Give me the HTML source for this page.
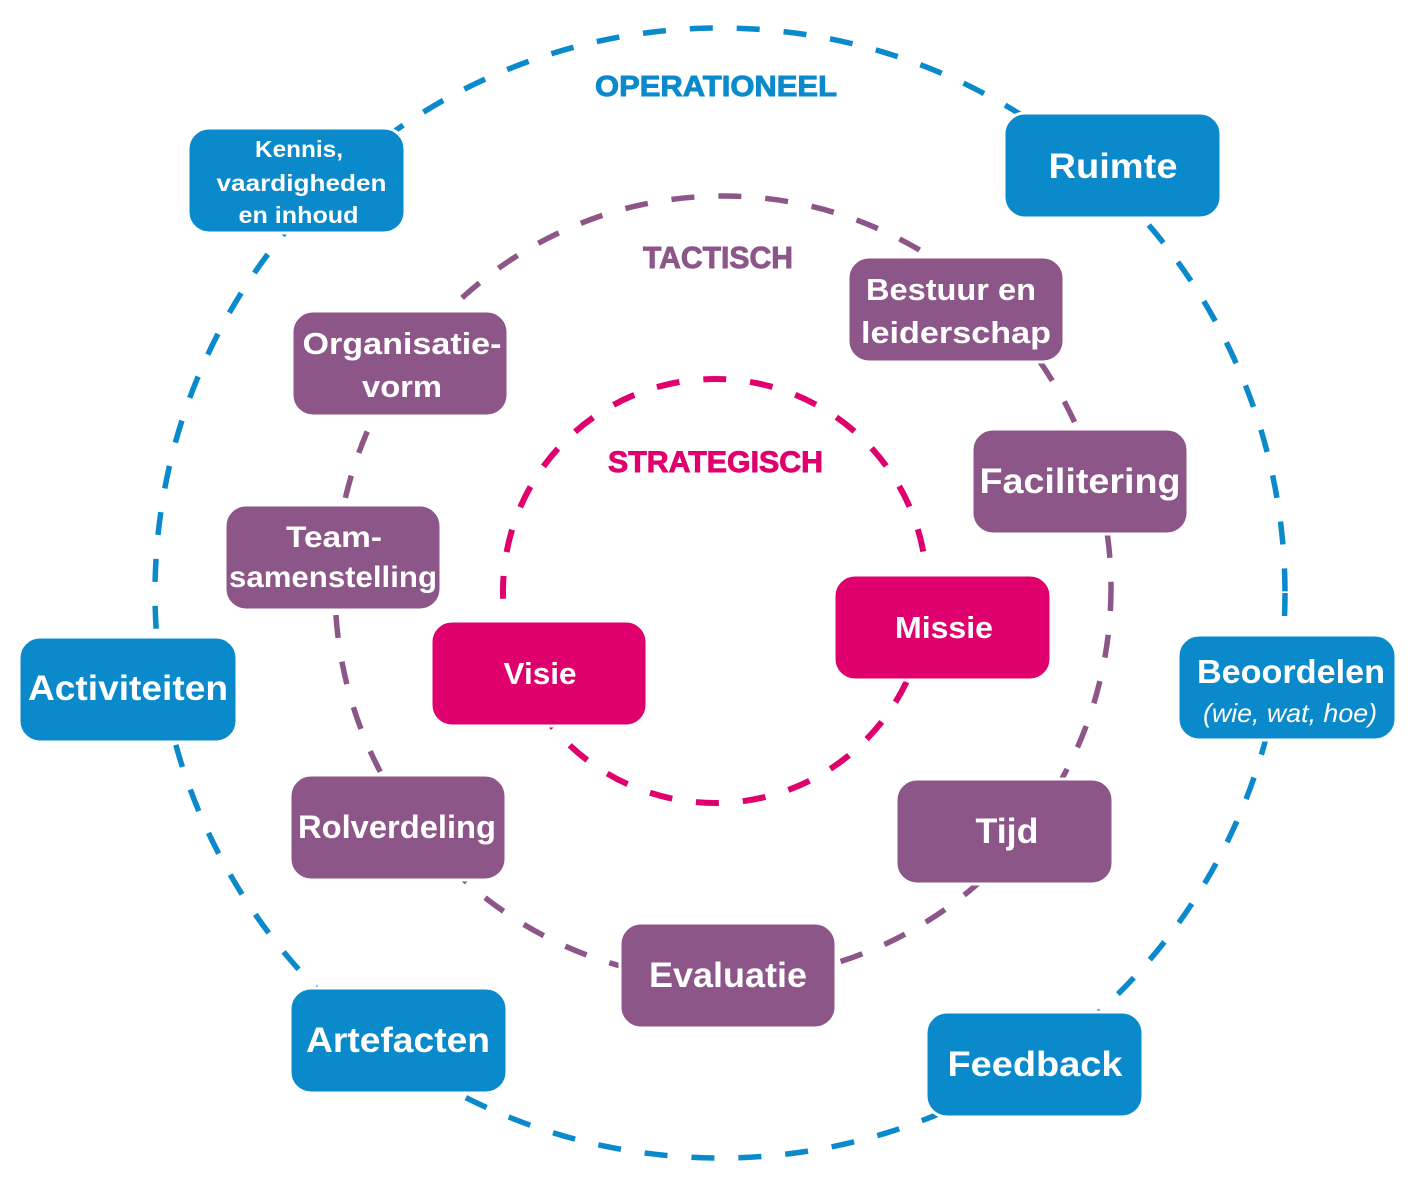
<!DOCTYPE html>
<html>
<head>
<meta charset="utf-8">
<style>
  html, body { margin: 0; padding: 0; background: #ffffff; }
  svg { display: block; }
  .lbl { font-family: "Liberation Sans", "DejaVu Sans", sans-serif; font-weight: bold; fill: #ffffff; text-anchor: middle; }
  .hd { font-family: "Liberation Sans", "DejaVu Sans", sans-serif; font-weight: bold; text-anchor: middle; stroke-width: 0.9; }
</style>
</head>
<body>
<svg width="1424" height="1180" viewBox="0 0 1424 1180" xmlns="http://www.w3.org/2000/svg">
  <rect x="0" y="0" width="1424" height="1180" fill="#ffffff"/>

  <!-- dashed rings -->
  <circle cx="720" cy="593" r="565" fill="none" stroke="#0a8acb" stroke-width="5.5" stroke-dasharray="23 24"/>
  <ellipse cx="723" cy="588" rx="388" ry="392" fill="none" stroke="#8c5689" stroke-width="5.5" stroke-dasharray="23 24"/>
  <circle cx="715" cy="591" r="212" fill="none" stroke="#df006d" stroke-width="6" stroke-dasharray="23 24"/>

  <!-- headings -->
  <text class="hd" x="716" y="96" font-size="29" fill="#0a8acb" stroke="#0a8acb" textLength="242" lengthAdjust="spacingAndGlyphs">OPERATIONEEL</text>
  <text class="hd" x="718" y="268" font-size="31" fill="#8c5689" stroke="#8c5689" textLength="150" lengthAdjust="spacingAndGlyphs">TACTISCH</text>
  <text class="hd" x="715.5" y="472" font-size="30" fill="#df006d" stroke="#df006d" textLength="215" lengthAdjust="spacingAndGlyphs">STRATEGISCH</text>

  <!-- blue boxes (operationeel) -->
  <g fill="#0a8acb" stroke="#ffffff" stroke-width="3">
    <rect x="188" y="128" width="217" height="105" rx="21"/>
    <rect x="1004" y="113" width="217" height="105" rx="21"/>
    <rect x="19" y="637" width="218" height="105" rx="21"/>
    <rect x="1178" y="635" width="218" height="105" rx="21"/>
    <rect x="290" y="988" width="217" height="105" rx="21"/>
    <rect x="926" y="1012" width="217" height="105" rx="21"/>
  </g>

  <!-- purple boxes (tactisch) -->
  <g fill="#8c5689" stroke="#ffffff" stroke-width="3">
    <rect x="848" y="257" width="216" height="105" rx="21"/>
    <rect x="292" y="311" width="216" height="105" rx="21"/>
    <rect x="972" y="429" width="216" height="105" rx="21"/>
    <rect x="225" y="505" width="216" height="105" rx="21"/>
    <rect x="290" y="775" width="216" height="105" rx="21"/>
    <rect x="896" y="779" width="217" height="105" rx="21"/>
    <rect x="620" y="923" width="216" height="105" rx="21"/>
  </g>

  <!-- pink boxes (strategisch) -->
  <g fill="#df006d" stroke="#ffffff" stroke-width="3">
    <rect x="834" y="575" width="217" height="105" rx="21"/>
    <rect x="431" y="621" width="216" height="105" rx="21"/>
  </g>

  <!-- labels: blue -->
  <text class="lbl" x="299" y="157" font-size="23" textLength="88" lengthAdjust="spacingAndGlyphs">Kennis,</text>
  <text class="lbl" x="301.5" y="191" font-size="23" textLength="170" lengthAdjust="spacingAndGlyphs">vaardigheden</text>
  <text class="lbl" x="298.5" y="223" font-size="23" textLength="120" lengthAdjust="spacingAndGlyphs">en inhoud</text>

  <text class="lbl" x="1113" y="178" font-size="35" textLength="129" lengthAdjust="spacingAndGlyphs">Ruimte</text>
  <text class="lbl" x="128" y="700" font-size="35" textLength="200" lengthAdjust="spacingAndGlyphs">Activiteiten</text>
  <text class="lbl" x="1291" y="683" font-size="33" textLength="188" lengthAdjust="spacingAndGlyphs">Beoordelen</text>
  <text x="1290" y="722" font-family="Liberation Sans, DejaVu Sans, sans-serif" font-style="italic" font-weight="normal" font-size="26" fill="#ffffff" text-anchor="middle" textLength="174" lengthAdjust="spacingAndGlyphs">(wie, wat, hoe)</text>
  <text class="lbl" x="398" y="1052" font-size="35" textLength="184" lengthAdjust="spacingAndGlyphs">Artefacten</text>
  <text class="lbl" x="1035" y="1076" font-size="35" textLength="175" lengthAdjust="spacingAndGlyphs">Feedback</text>

  <!-- labels: purple -->
  <text class="lbl" x="951" y="300" font-size="31" textLength="170" lengthAdjust="spacingAndGlyphs">Bestuur en</text>
  <text class="lbl" x="956" y="343" font-size="31" textLength="190" lengthAdjust="spacingAndGlyphs">leiderschap</text>
  <text class="lbl" x="402" y="354" font-size="31" textLength="199" lengthAdjust="spacingAndGlyphs">Organisatie-</text>
  <text class="lbl" x="402" y="397" font-size="31" textLength="80" lengthAdjust="spacingAndGlyphs">vorm</text>
  <text class="lbl" x="1080" y="493" font-size="35" textLength="201" lengthAdjust="spacingAndGlyphs">Facilitering</text>
  <text class="lbl" x="334" y="547" font-size="30" textLength="96" lengthAdjust="spacingAndGlyphs">Team-</text>
  <text class="lbl" x="333" y="587" font-size="30" textLength="208" lengthAdjust="spacingAndGlyphs">samenstelling</text>
  <text class="lbl" x="397" y="838" font-size="32" textLength="198" lengthAdjust="spacingAndGlyphs">Rolverdeling</text>
  <text class="lbl" x="1007" y="843" font-size="35" textLength="63" lengthAdjust="spacingAndGlyphs">Tijd</text>
  <text class="lbl" x="728" y="987" font-size="35" textLength="158" lengthAdjust="spacingAndGlyphs">Evaluatie</text>

  <!-- labels: pink -->
  <text class="lbl" x="944" y="638" font-size="31" textLength="98" lengthAdjust="spacingAndGlyphs">Missie</text>
  <text class="lbl" x="540" y="684" font-size="31" textLength="73" lengthAdjust="spacingAndGlyphs">Visie</text>
</svg>
</body>
</html>
